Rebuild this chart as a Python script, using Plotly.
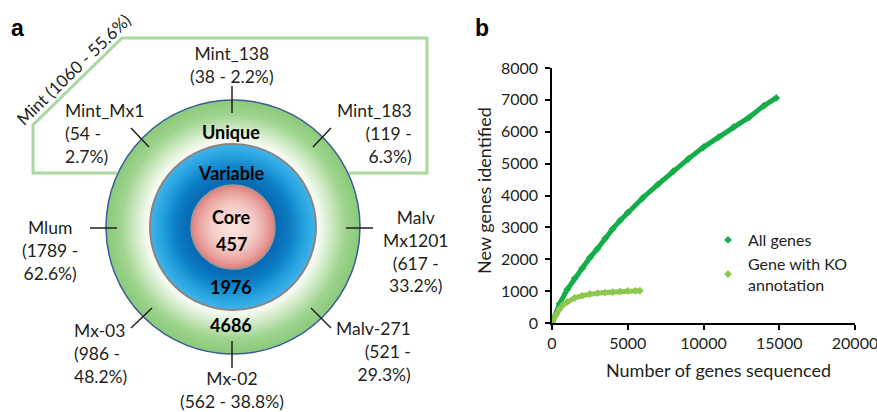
import plotly.graph_objects as go

W, H = 877, 412

# ---------------- data ----------------
all_x = [0, 500, 1000, 1500, 2000, 2500, 3000, 3500, 4000, 4500, 5000, 6000, 7000,
         8000, 9000, 10000, 11000, 12000, 13000, 14000, 14800]
all_y = [0, 600, 1050, 1400, 1720, 2050, 2330, 2650, 2950, 3220, 3460, 3930, 4350,
         4760, 5150, 5520, 5830, 6150, 6450, 6820, 7060]
ko_x = [0, 250, 500, 750, 1000, 1500, 2000, 2500, 3000, 3500, 4000, 4500, 5000, 5500, 5800]
ko_y = [0, 250, 440, 580, 660, 790, 860, 910, 935, 955, 970, 990, 1005, 1010, 1012]

series_names = ["All genes", "Gene with KO<br>annotation"]
x_ticks = [0, 5000, 10000, 15000, 20000]
x_tick_text = ["0", "5000", "10000", "15000", "20000"]
y_ticks = [0, 1000, 2000, 3000, 4000, 5000, 6000, 7000, 8000]
y_tick_text = ["0", "1000", "2000", "3000", "4000", "5000", "6000", "7000", "8000"]

ring_labels = ["Unique", "Variable", "Core", "457", "1976", "4686"]
genome_labels = [
    "Mint_138<br>(38 - 2.2%)",
    "Mint_Mx1<br>(54 -<br>2.7%)",
    "Mint_183<br>(119 -<br>6.3%)",
    "Mlum<br>(1789 -<br>62.6%)",
    "Malv<br>Mx1201<br>(617 -<br>33.2%)",
    "Mx-03<br>(986 -<br>48.2%)",
    "Mx-02<br>(562 - 38.8%)",
    "Malv-271<br>(521 -<br>29.3%)",
]
mint_label = "Mint (1060 - 55.6%)"

FONT = "Lato"
TXT = "#231f20"

def px(x):
    return x / W

def py(y):
    return 1 - y / H

def hex2rgb(h):
    h = h.lstrip("#")
    return [int(h[i:i + 2], 16) for i in (0, 2, 4)]

def interp(stops, r):
    for (r0, c0), (r1, c1) in zip(stops[:-1], stops[1:]):
        if r1 <= r <= r0:
            t = (r0 - r) / (r0 - r1) if r0 != r1 else 0
            a, b = hex2rgb(c0), hex2rgb(c1)
            return "rgb(%d,%d,%d)" % tuple(round(a[i] + (b[i] - a[i]) * t) for i in range(3))
    return stops[-1][1]

def ann(x, y, text, **kw):
    d = dict(x=px(x), y=py(y), xref="paper", yref="paper", text=text, showarrow=False,
             xanchor="center", yanchor="middle")
    d.update(kw)
    return d

fig = go.Figure()

# ---------------- panel b ----------------
c_all = "#14ad4a"
c_ko = "#8dc84e"
fig.add_trace(go.Scatter(x=all_x, y=all_y, mode="lines", line=dict(color=c_all, width=5),
                         showlegend=False, hoverinfo="skip"))
fig.add_trace(go.Scatter(x=ko_x, y=ko_y, mode="lines", line=dict(color=c_ko, width=5),
                         showlegend=False, hoverinfo="skip"))
fig.add_trace(go.Scatter(x=all_x, y=all_y, mode="markers", name=series_names[0],
                         marker=dict(symbol="diamond", size=6, color=c_all)))
fig.add_trace(go.Scatter(x=ko_x, y=ko_y, mode="markers", name=series_names[1],
                         marker=dict(symbol="diamond", size=6, color=c_ko)))

axis_common = dict(showline=True, linecolor="black", linewidth=1.5, ticks="outside",
                   ticklen=5, tickwidth=1.5, tickcolor="black", showgrid=False,
                   zeroline=False, ticklabeloverflow="allow",
                   tickfont=dict(family=FONT, size=16, color=TXT))
fig.update_layout(
    width=W, height=H, margin=dict(l=0, r=0, t=0, b=0),
    paper_bgcolor="white", plot_bgcolor="white",
    xaxis=dict(domain=[px(552), px(855)], range=[0, 20000], tickvals=x_ticks,
               ticktext=x_tick_text, automargin=False, **axis_common),
    yaxis=dict(domain=[py(323), py(68)], range=[0, 8000], tickvals=y_ticks,
               ticktext=y_tick_text, automargin=False, ticklabelstandoff=4, **axis_common),
    legend=dict(x=px(708), y=py(223), xanchor="left", yanchor="top",
                font=dict(family=FONT, size=16, color=TXT), bgcolor="rgba(0,0,0,0)",
                itemwidth=30, tracegroupgap=9),
)

annotations = []
annotations.append(ann(718, 370, "Number of genes sequenced",
                       font=dict(family=FONT, size=18, color=TXT)))
annotations.append(ann(484, 190, "New genes identified", textangle=-90,
                       font=dict(family=FONT, size=18, color=TXT)))
annotations.append(ann(482, 28, "<b>b</b>", font=dict(family="Liberation Sans", size=23, color="black")))
annotations.append(ann(17, 28, "<b>a</b>", font=dict(family="Liberation Sans", size=23, color="black")))

# ---------------- panel a ----------------
shapes = []
cx, cy = 233, 227
R_out, R_mid, R_core = 127, 83, 42

def circ(r, fill=None, line=None, lw=0):
    d = dict(type="circle", xref="paper", yref="paper",
             x0=px(cx - r), x1=px(cx + r), y0=py(cy + r), y1=py(cy - r), layer="above")
    d["fillcolor"] = fill if fill else "rgba(0,0,0,0)"
    d["line"] = dict(color=line if line else "rgba(0,0,0,0)", width=lw)
    return d

green_stops = [(127, "#8bca7b"), (113, "#9fd48f"), (100, "#cbe8bf"), (88, "#f2f9ee"), (83, "#f7fbf5")]
blue_stops = [(83, "#40b4ea"), (72, "#26a2df"), (58, "#0c7ec6"), (46, "#0a6cb4"), (42, "#0a6cb4")]
pink_stops = [(42, "#e0827f"), (34, "#eaa6a2"), (22, "#f4cdc8"), (0, "#fbe6e2")]

r = R_out
while r > R_mid:
    shapes.append(circ(r, fill=interp(green_stops, r)))
    r -= 1
r = R_mid
while r > R_core:
    shapes.append(circ(r, fill=interp(blue_stops, r)))
    r -= 1
r = R_core
while r > 0:
    shapes.append(circ(r, fill=interp(pink_stops, r)))
    r -= 1.5

shapes.append(circ(R_out, line="#3b5a98", lw=1.5))
shapes.append(circ(R_mid, line="#8a8580", lw=2))
shapes.append(circ(R_core, line="#999999", lw=1.5))

pts = [(117, 173), (33, 173), (33, 125), (122, 38), (427, 38), (427, 173), (349, 173)]
path = "M " + " L ".join("%f,%f" % (px(a), py(b)) for a, b in pts)
shapes.append(dict(type="path", xref="paper", yref="paper", path=path,
                   line=dict(color="#a9d8a0", width=3), layer="below"))

ticks_seg = [((232, 86), (232, 113)), ((131, 128), (149, 147)), ((331, 128), (313, 147)),
             ((90, 228), (117, 228)), ((346, 228), (373, 228)), ((131, 328), (152, 308)),
             ((232, 341), (232, 368)), ((311, 308), (331, 328))]
for (a, b), (c, d) in ticks_seg:
    shapes.append(dict(type="line", xref="paper", yref="paper", x0=px(a), y0=py(b),
                       x1=px(c), y1=py(d), line=dict(color="#231f20", width=1.5), layer="above"))

ring_pos = [(231, 132), (231, 173), (231, 217), (231, 244), (231, 287), (231, 325)]
for t, (a, b) in zip(ring_labels, ring_pos):
    annotations.append(ann(a, b, "<b>%s</b>" % t, font=dict(family=FONT, size=18, color="black")))

LS = 22
g_pos = [(232, 53, "center"), (63, 110, "left"), (414, 110, "right"), (50, 227, "center"),
         (416, 217, "center"), (72, 330, "left"), (232, 378, "center"), (413, 328, "right")]
for t, (a, b, anc) in zip(genome_labels, g_pos):
    annotations.append(ann(a, b - LS / 2 - 1, t, xanchor=anc, yanchor="top", align=anc,
                           font=dict(family=FONT, size=17.5, color=TXT)))

annotations.append(ann(73, 69, mint_label, textangle=-44,
                       font=dict(family=FONT, size=17, color=TXT)))

fig.update_layout(shapes=shapes, annotations=annotations)
fig.write_html("out.html", config={"displayModeBar": False},
               post_script="document.body.style.margin='0';")
